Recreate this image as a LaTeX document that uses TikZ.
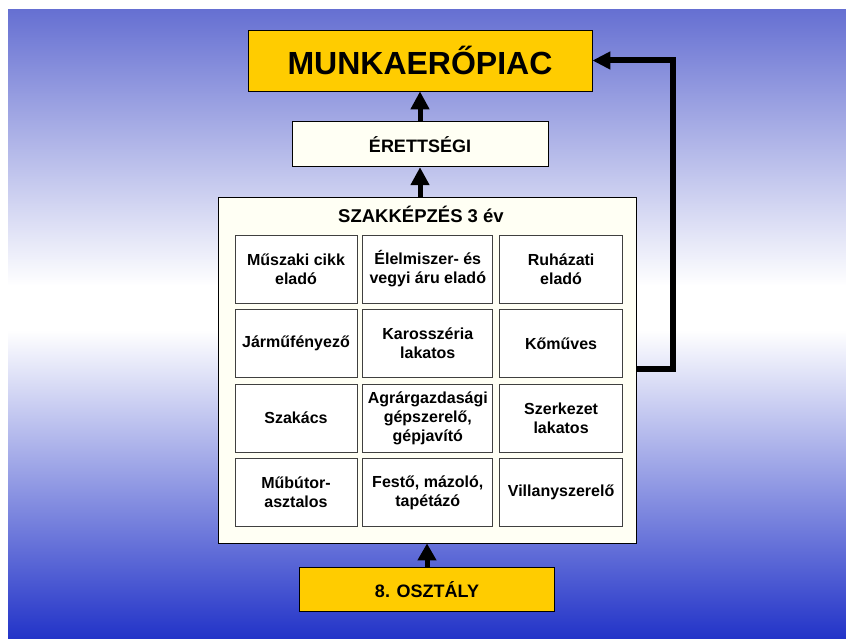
\documentclass[tikz,border=0pt]{standalone}
\usepackage{fontspec}
\setmainfont{Liberation Sans}
\usetikzlibrary{positioning,arrows.meta}
\definecolor{sarga}{HTML}{FFCC00}
\definecolor{krem}{HTML}{FFFFF4}
\definecolor{kekfent}{HTML}{6670D2}
\definecolor{keklent}{HTML}{2233C8}
\begin{document}
\begin{tikzpicture}[node distance=6pt,
  doboz/.style={draw=black, line width=0.8pt, inner sep=1pt, align=center, font=\bfseries\fontsize{18}{21}\selectfont},
  cella/.style={draw=black!75, line width=0.8pt, fill=white, minimum height=68pt, inner sep=1pt, align=center, font=\bfseries\fontsize{16}{19}\selectfont}]
\useasboundingbox (0,0) rectangle (846pt,-639pt);
\shade[top color=kekfent, bottom color=white] (8pt,-10pt) rectangle (846pt,-286pt);
\fill[white] (8pt,-285pt) rectangle (846pt,-331pt);
\shade[top color=white, bottom color=keklent] (8pt,-330pt) rectangle (846pt,-639pt);
\node  (m)[doboz, fill=sarga, minimum width=344pt, minimum height=61pt, font=\bfseries\fontsize{32}{36}\selectfont] at (420pt,-60.5pt) {MUNKAERŐPIAC};
\node  (e)[doboz, fill=krem, minimum width=256pt, minimum height=45pt] [below=30pt of m] {ÉRETTSÉGI};
\node  (sz)[doboz, fill=krem, minimum width=418pt, minimum height=346pt] at (427pt,-370pt) {};
\node  (cim)[font=\bfseries\fontsize{18.5}{21}\selectfont] at ([xshift=-6pt, yshift=-18pt]sz.north) {SZAKKÉPZÉS 3 év};
\node  (o)[doboz, fill=sarga, minimum width=255pt, minimum height=44pt] [below=24pt of sz] {8. OSZTÁLY};
\node  (1)[cella, minimum width=122pt] at (296pt,-269pt) {Műszaki cikk\\eladó};
\node  (2)[cella, minimum width=130pt] [right=5pt of 1] {Élelmiszer- és\\vegyi áru eladó};
\node  (3)[cella, minimum width=123pt] [right=6pt of 2] {Ruházati\\eladó};
\node  (4)[cella, minimum width=122pt] [below of=1, node distance=74.5pt] {Járműfényező};
\node  (5)[cella, minimum width=130pt] [below of=2, node distance=74.5pt] {Karosszéria\\lakatos};
\node  (6)[cella, minimum width=123pt] [below of=3, node distance=74.5pt] {Kőműves};
\node  (7)[cella, minimum width=122pt] [below of=4, node distance=74.5pt] {Szakács};
\node  (8)[cella, minimum width=130pt] [below of=5, node distance=74.5pt] {Agrárgazdasági\\gépszerelő,\\gépjavító};
\node  (9)[cella, minimum width=123pt] [below of=6, node distance=74.5pt] {Szerkezet\\lakatos};
\node  (10)[cella, minimum width=122pt] [below of=7, node distance=74.5pt] {Műbútor-\\asztalos};
\node  (11)[cella, minimum width=130pt] [below of=8, node distance=74.5pt] {Festő, mázoló,\\tapétázó};
\node  (12)[cella, minimum width=123pt] [below of=9, node distance=74.5pt] {Villanyszerelő};
\coordinate (k1) at (636pt,-369pt);
\coordinate (k2) at (673pt,-369pt);
\draw[arrows=-{Triangle[width=18pt, length=18pt]}, line width=5pt] (e) -- (m);
\draw[arrows=-{Triangle[width=18pt, length=18pt]}, line width=5pt] (e |- sz.north) -- (e);
\draw[arrows=-{Triangle[width=18pt, length=17pt]}, line width=5pt] (o) -- (o |- sz.south);
\draw[arrows=-{Triangle[width=17pt, length=18pt]}, line width=6pt] (k1) -- (k2) |- (m);
\end{tikzpicture}
\end{document}
